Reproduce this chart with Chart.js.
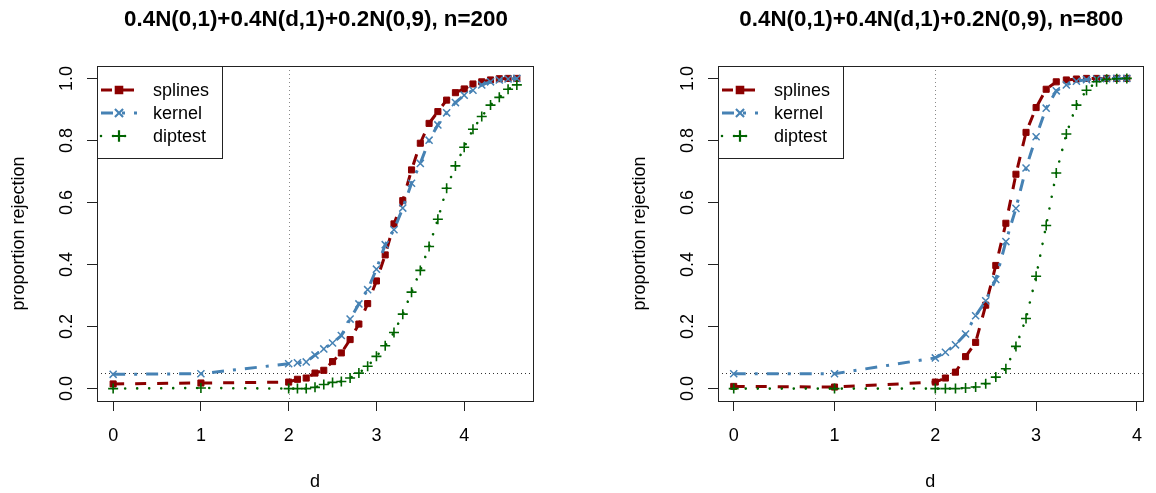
<!DOCTYPE html>
<html><head><meta charset="utf-8">
<script src="https://cdn.jsdelivr.net/npm/chart.js@4.4.1/dist/chart.umd.min.js"></script>
<style>
html,body{margin:0;padding:0;background:#fff;}
#wrap{position:relative;width:1156px;height:493px;overflow:hidden;}
canvas{position:absolute;top:0;}
</style></head><body>
<div id="wrap"><canvas id="c1" width="578" height="493" style="left:0"></canvas><canvas id="c2" width="578" height="493" style="left:578px"></canvas></div>
<script>
// ---------- data ----------
const titleLeft = "0.4N(0,1)+0.4N(d,1)+0.2N(0,9), n=200";
const titleRight = "0.4N(0,1)+0.4N(d,1)+0.2N(0,9), n=800";
const seriesNames = ["splines", "kernel", "diptest"];
const xAxisLabel = "d";
const yAxisLabel = "proportion rejection";
const xTickValues = [0, 1, 2, 3, 4];
const yTickLabels = ["0.0", "0.2", "0.4", "0.6", "0.8", "1.0"];
const refLineY = 0.05;
const refLineX = 2;

const dLeft = [0, 1, 2, 2.1, 2.2, 2.3, 2.4, 2.5, 2.6, 2.7, 2.8, 2.9, 3.0, 3.1, 3.2, 3.3, 3.4, 3.5, 3.6, 3.7, 3.8, 3.9, 4.0, 4.1, 4.2, 4.3, 4.4, 4.5, 4.6];
const splinesLeft = [0.015, 0.018, 0.021, 0.030, 0.034, 0.050, 0.059, 0.087, 0.115, 0.158, 0.208, 0.274, 0.347, 0.431, 0.531, 0.606, 0.705, 0.791, 0.855, 0.893, 0.930, 0.954, 0.966, 0.982, 0.989, 0.995, 0.999, 1.0, 1.0];
const kernelLeft = [0.046, 0.048, 0.080, 0.083, 0.086, 0.108, 0.128, 0.147, 0.171, 0.224, 0.273, 0.319, 0.385, 0.464, 0.512, 0.582, 0.662, 0.726, 0.801, 0.850, 0.889, 0.922, 0.946, 0.962, 0.979, 0.989, 0.995, 0.998, 1.0];
const diptestLeft = [0.0, 0.002, 0.0, 0.0, 0.0, 0.004, 0.013, 0.020, 0.023, 0.034, 0.050, 0.072, 0.104, 0.138, 0.181, 0.240, 0.311, 0.381, 0.458, 0.546, 0.646, 0.718, 0.778, 0.836, 0.877, 0.914, 0.939, 0.965, 0.979];

const dRight = [0, 1, 2, 2.1, 2.2, 2.3, 2.4, 2.5, 2.6, 2.7, 2.8, 2.9, 3.0, 3.1, 3.2, 3.3, 3.4, 3.5, 3.6, 3.7, 3.8, 3.9];
const splinesRight = [0.007, 0.005, 0.021, 0.034, 0.053, 0.103, 0.149, 0.269, 0.397, 0.533, 0.691, 0.826, 0.906, 0.965, 0.989, 0.995, 0.998, 1.0, 1.0, 1.0, 1.0, 1.0];
const kernelRight = [0.048, 0.048, 0.099, 0.117, 0.141, 0.176, 0.235, 0.283, 0.352, 0.474, 0.581, 0.711, 0.812, 0.904, 0.960, 0.979, 0.991, 0.996, 0.998, 0.999, 1.0, 1.0];
const diptestRight = [0.0, 0.0, 0.0, 0.0, 0.0, 0.002, 0.005, 0.016, 0.037, 0.064, 0.136, 0.226, 0.362, 0.526, 0.695, 0.821, 0.914, 0.962, 0.989, 0.997, 0.999, 1.0];

// ---------- styling ----------
const FONT = "'Liberation Sans', Arial, Helvetica, sans-serif";
Chart.defaults.font.family = FONT;
Chart.defaults.color = '#000';

const styles = [
  { color: '#8B0000', dash: [11, 11], cap: 'butt', width: 3, marker: 'rect', radius: 4.3, mw: 1, order: 3 },
  { color: '#4682B4', dash: [12, 9, 3, 9], cap: 'butt', width: 3, marker: 'crossRot', radius: 5, mw: 1.5, order: 2 },
  { color: '#006400', dash: [0.01, 12], cap: 'round', width: 2.6, marker: 'cross', radius: 5, mw: 1.6, order: 1 }
];

function toPts(xs, ys) { return xs.map((x, i) => ({ x: x, y: ys[i] })); }

function drawMarker(ctx, style, x, y, r, w, color) {
  ctx.save();
  ctx.setLineDash([]);
  ctx.strokeStyle = color; ctx.fillStyle = color; ctx.lineWidth = w;
  ctx.beginPath();
  if (style === 'rect') {
    const s = r * Math.SQRT1_2;
    ctx.rect(x - s, y - s, 2 * s, 2 * s);
    ctx.fill(); ctx.stroke();
  } else if (style === 'crossRot') {
    const o = r * Math.SQRT1_2;
    ctx.moveTo(x - o, y - o); ctx.lineTo(x + o, y + o);
    ctx.moveTo(x - o, y + o); ctx.lineTo(x + o, y - o);
    ctx.stroke();
  } else {
    ctx.moveTo(x - r, y); ctx.lineTo(x + r, y);
    ctx.moveTo(x, y - r); ctx.lineTo(x, y + r);
    ctx.stroke();
  }
  ctx.restore();
}

const decor = {
  id: 'decor',
  beforeDatasetsDraw(chart, args, o) {
    const { ctx, chartArea: a, scales: { x, y } } = chart;
    ctx.save();
    ctx.lineWidth = 1;
    ctx.setLineDash([1, 3]);
    ctx.strokeStyle = '#8a8a8a';
    const px = Math.round(x.getPixelForValue(refLineX)) + 0.5;
    ctx.beginPath(); ctx.moveTo(px, a.top); ctx.lineTo(px, a.bottom); ctx.stroke();
    ctx.strokeStyle = '#333';
    const py = Math.round(y.getPixelForValue(refLineY)) + 0.5;
    ctx.beginPath(); ctx.moveTo(a.left, py); ctx.lineTo(a.right, py); ctx.stroke();
    ctx.restore();
  },
  afterDraw(chart, args, o) {
    const { ctx, chartArea: a, scales: { y } } = chart;
    ctx.save();
    // box
    ctx.strokeStyle = '#222'; ctx.lineWidth = 1; ctx.setLineDash([]);
    ctx.strokeRect(Math.round(a.left) + 0.5, Math.round(a.top) + 0.5, Math.round(a.right - a.left), Math.round(a.bottom - a.top));
    // y tick labels (rotated, as R draws them)
    ctx.fillStyle = '#000';
    ctx.font = '18px ' + FONT;
    ctx.textAlign = 'center'; ctx.textBaseline = 'alphabetic';
    yTickLabels.forEach(t => {
      const py = y.getPixelForValue(parseFloat(t));
      ctx.save();
      ctx.translate(a.left - 25, py);
      ctx.rotate(-Math.PI / 2);
      ctx.fillText(t, 0, 0);
      ctx.restore();
    });
    // main title
    ctx.font = 'bold 22.4px ' + FONT;
    ctx.textBaseline = 'middle';
    ctx.fillText(o.title, (a.left + a.right) / 2 + 1, 20);
    // legend
    const lx = Math.round(a.left) + 0.5, ly = Math.round(a.top) + 0.5;
    ctx.fillStyle = '#fff';
    ctx.fillRect(lx, ly, 125, 92);
    ctx.strokeStyle = '#222'; ctx.lineWidth = 1;
    ctx.strokeRect(lx, ly, 125, 92);
    chart.data.datasets.forEach((ds, i) => {
      const st = styles[i];
      const ry = a.top + 24 + 23 * i;
      ctx.save();
      ctx.strokeStyle = st.color; ctx.lineWidth = st.width;
      ctx.setLineDash(st.dash); ctx.lineCap = st.cap;
      ctx.beginPath(); ctx.moveTo(a.left + 4, ry); ctx.lineTo(a.left + 40, ry); ctx.stroke();
      ctx.restore();
      drawMarker(ctx, st.marker, a.left + 22, ry, st.radius * 1.15, st.mw + 0.6, st.color);
      ctx.fillStyle = '#000';
      ctx.font = '18px ' + FONT;
      ctx.textAlign = 'left'; ctx.textBaseline = 'middle';
      ctx.fillText(ds.label, a.left + 56, ry + 1);
    });
    ctx.restore();
  }
};

function makeChart(id, title, xs, ys, xmin, xmax, yAxisWidth, rightPad, yTitlePad) {
  const datasets = ys.map((vals, i) => {
    const st = styles[i];
    return {
      label: seriesNames[i],
      data: toPts(xs, vals),
      borderColor: st.color,
      backgroundColor: st.color,
      borderWidth: st.width,
      borderDash: st.dash,
      borderCapStyle: st.cap,
      pointStyle: st.marker,
      pointRadius: st.radius,
      pointBorderWidth: st.mw,
      pointBackgroundColor: st.color,
      pointBorderColor: st.color,
      tension: 0,
      fill: false,
      order: st.order
    };
  });
  return new Chart(document.getElementById(id), {
    type: 'line',
    data: { datasets },
    plugins: [decor],
    options: {
      responsive: false,
      animation: false,
      events: [],
      layout: { padding: { left: 0, top: 66, right: rightPad, bottom: 0 } },
      plugins: {
        legend: { display: false },
        title: { display: false },
        tooltip: { enabled: false },
        decor: { title: title }
      },
      scales: {
        x: {
          type: 'linear', min: xmin, max: xmax,
          afterBuildTicks: s => { s.ticks = xTickValues.map(v => ({ value: v })); },
          afterFit: s => { s.height = 92; },
          grid: { drawOnChartArea: false, drawTicks: true, tickLength: 10, color: '#222', lineWidth: 1 },
          border: { display: false },
          ticks: { font: { size: 18 }, color: '#000', padding: 14, maxRotation: 0, autoSkip: false },
          title: { display: true, text: xAxisLabel, font: { size: 18 }, color: '#000', padding: { top: 0, bottom: 0 } }
        },
        y: {
          type: 'linear', min: -0.04, max: 1.04,
          afterBuildTicks: s => { s.ticks = yTickLabels.map(t => ({ value: parseFloat(t) })); },
          afterFit: s => { s.width = yAxisWidth; },
          grid: { drawOnChartArea: false, drawTicks: true, tickLength: 10, color: '#222', lineWidth: 1 },
          border: { display: false },
          ticks: { display: false },
          title: { display: true, text: yAxisLabel, font: { size: 18 }, color: '#000', padding: { top: yTitlePad, bottom: 0 } }
        }
      }
    }
  });
}

makeChart('c1', titleLeft, dLeft, [splinesLeft, kernelLeft, diptestLeft], -0.184, 4.784, 97, 45, 8);
makeChart('c2', titleRight, dRight, [splinesRight, kernelRight, diptestRight], -0.156, 4.056, 140, 1, 51);
</script>
</body></html>
